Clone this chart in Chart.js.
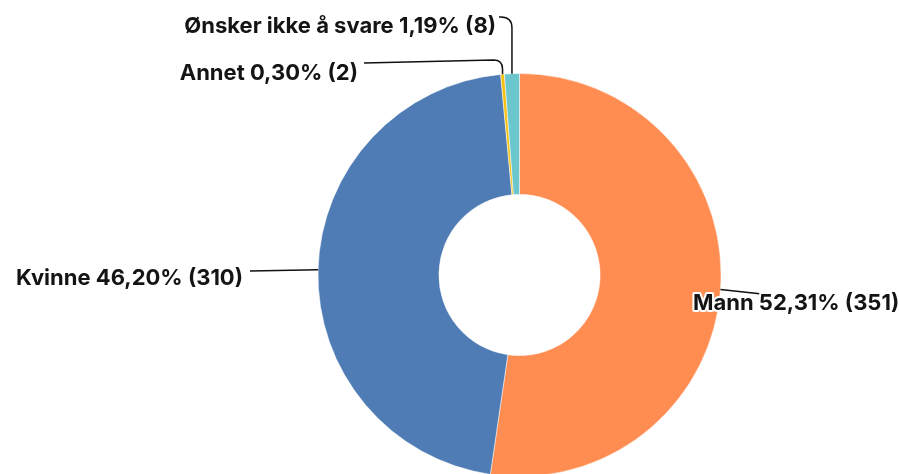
<!DOCTYPE html>
<html>
<head>
<meta charset="utf-8">
<script src="https://cdn.jsdelivr.net/npm/chart.js@4.4.1/dist/chart.umd.min.js"></script>
<style>
  html, body { margin: 0; padding: 0; background: #fff; overflow: hidden; }
  #wrap { position: absolute; left: 0; top: 0; width: 899px; height: 480px; }
</style>
</head>
<body>
<div id="wrap"><canvas id="kjonn"></canvas></div>
<script>
// Svarfordeling kjønn
const categories = ["Mann", "Kvinne", "Annet", "Ønsker ikke å svare"];
const counts = [351, 310, 2, 8];
const colors = ["#FF8C50", "#4F7CB5", "#F5C00E", "#6CC7CC"];

const total = counts.reduce((a, b) => a + b, 0);
const labelText = (i) => {
  const pct = (counts[i] / total * 100).toFixed(2).replace(".", ",");
  return categories[i] + " " + pct + "% (" + counts[i] + ")";
};

// where each label sits and how its leader line bends
const placement = [
  { x: 693, y: 310, align: "left", end: [762, 294], halo: true },
  { x: 243, y: 285, align: "right", end: [250, 271] },
  { x: 358, y: 80, align: "right", end: [364, 63], bendY: 60, bend: 9 },
  { x: 496, y: 33, align: "right", end: [499, 17], bendY: 17, bend: 11 }
];

const FONT = "700 22px Inter, 'Noto Sans', sans-serif";

const calloutLabels = {
  id: "calloutLabels",
  afterDatasetsDraw(chart) {
    const ctx = chart.ctx;
    const arcs = chart.getDatasetMeta(0).data;
    ctx.save();
    ctx.strokeStyle = "#111";
    ctx.lineWidth = 1.5;
    arcs.forEach((arc, i) => {
      const p = placement[i];
      const mid = (arc.startAngle + arc.endAngle) / 2;
      const ax = arc.x + Math.cos(mid) * arc.outerRadius;
      const ay = arc.y + Math.sin(mid) * arc.outerRadius;
      ctx.beginPath();
      ctx.moveTo(ax, ay);
      if (p.bendY !== undefined) {
        // up from the slice, round the corner, then across to the text
        ctx.lineTo(ax, p.bendY + p.bend);
        ctx.quadraticCurveTo(ax, p.bendY, ax - p.bend, p.bendY);
        ctx.lineTo(p.end[0], p.end[1]);
      } else {
        ctx.lineTo(p.end[0], p.end[1]);
      }
      ctx.stroke();
    });
    ctx.font = FONT;
    ctx.textBaseline = "alphabetic";
    arcs.forEach((arc, i) => {
      const p = placement[i];
      ctx.textAlign = p.align;
      if (p.halo) {
        ctx.lineWidth = 4;
        ctx.lineJoin = "round";
        ctx.strokeStyle = "#fff";
        ctx.strokeText(labelText(i), p.x, p.y);
      }
      ctx.fillStyle = "#141414";
      ctx.fillText(labelText(i), p.x, p.y);
    });
    ctx.restore();
  }
};

new Chart(document.getElementById("kjonn"), {
  type: "doughnut",
  data: {
    labels: categories,
    datasets: [{
      data: counts,
      backgroundColor: colors,
      borderColor: "rgba(255,255,255,0.5)",
      borderWidth: 1
    }]
  },
  options: {
    responsive: true,
    maintainAspectRatio: false,
    animation: false,
    cutout: "40%",
    layout: { padding: { top: 73, left: 317, right: 177, bottom: 3 } },
    plugins: {
      legend: { display: false },
      tooltip: { enabled: false }
    }
  },
  plugins: [calloutLabels]
});
</script>
</body>
</html>
